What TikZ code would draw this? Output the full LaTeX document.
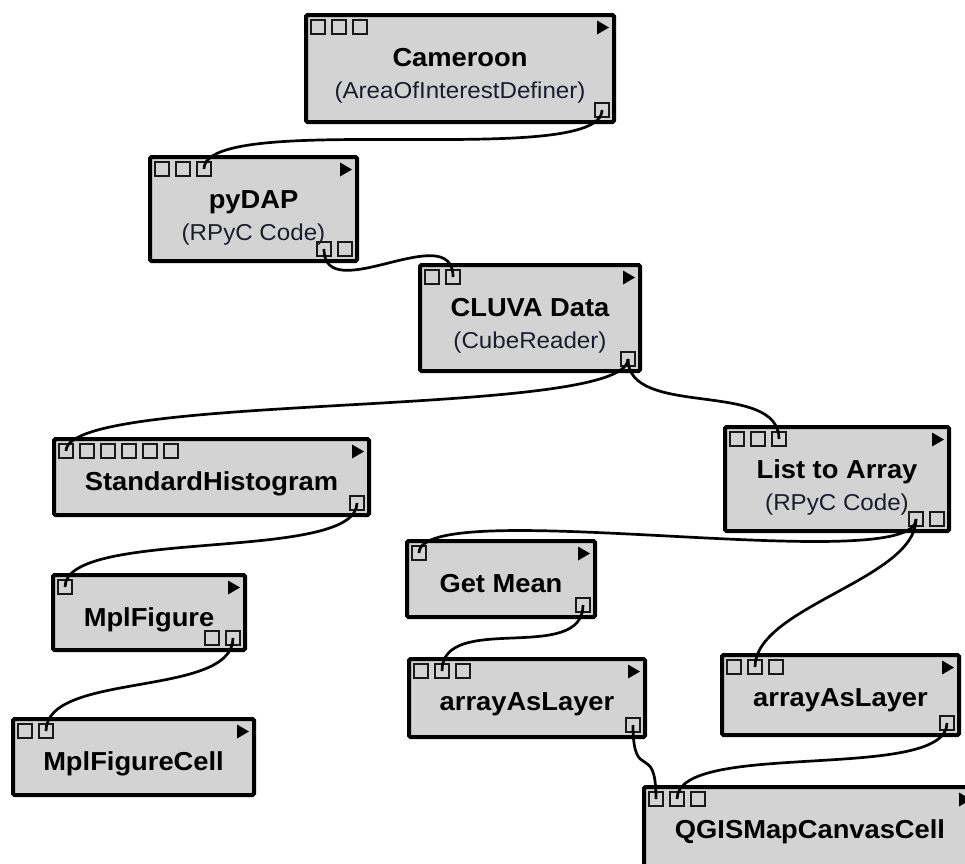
\documentclass[tikz,border=0pt]{standalone}
\usepackage{fontspec}
\setmainfont{Liberation Sans}[FakeStretch=1.05]
\usetikzlibrary{fit}

\definecolor{modfill}{RGB}{211,211,211}
\definecolor{subtext}{RGB}{28,28,48}

\tikzset{
  modbox/.style={draw=black, line width=4pt, fill=modfill, inner sep=0pt, outer sep=0pt, rounded corners=1.5pt},
  port/.style={draw=black!90, line width=1.2pt, minimum size=14pt, inner sep=0pt, outer sep=0pt, anchor=north west},
  wire/.style={draw=black, line width=2.7pt},
  modname/.style={font=\fontsize{26}{30}\selectfont\bfseries, anchor=base, inner sep=0pt, text=black},
  modsub/.style={font=\fontsize{23}{27}\selectfont, anchor=base, inner sep=0pt, text=subtext},
}

% module: name, left, top, right, bottom, inputs, outputs
\newcommand\vtmod[7]{%
  \node[modbox, fit={({#2+2},{#3+2}) ({#4-2},{#5-2})}] (#1) {};
  \fill ({#4-7},{#3+14.5}) -- ({#4-19},{#3+7.5}) -- ({#4-19},{#3+21.5}) -- cycle;
  \foreach \i in {1,...,#6} \node[port] (#1-in\i) at ({#2+7+(\i-1)*21},{#3+7}) {};
  \ifnum#7>0
    \foreach \i in {1,...,#7} \node[port] (#1-out\i) at ({#4-7-14-(#7-\i)*21},{#5-7-14}) {};
  \fi
}

\begin{document}
\begin{tikzpicture}[x=1pt, y=-1pt]
  \useasboundingbox (0,0) rectangle (965,863);
  \clip (0,0) rectangle (965,863);

  % modules
  \vtmod{cam}{304}{13}{616}{124}{3}{1}
  \vtmod{pydap}{148}{155}{359}{263}{3}{2}
  \vtmod{cluva}{418}{263}{642}{373}{2}{1}
  \vtmod{hist}{52}{437}{371}{517}{6}{1}
  \vtmod{lta}{723}{425}{951}{533}{3}{2}
  \vtmod{mean}{405}{539}{597}{619}{1}{1}
  \vtmod{mplfig}{51}{573}{247}{652}{1}{2}
  \vtmod{mplcell}{11}{717}{256}{797}{2}{0}
  \vtmod{laya}{407}{657}{647}{739}{3}{1}
  \vtmod{layb}{720}{653}{961}{737}{3}{1}
  \vtmod{qgis}{642}{785}{978}{890}{3}{0}

  % labels
  \node[modname] (cam-title) at (460,66) {Cameroon};
  \node[modsub]  (cam-sub)   at (460,98) {(AreaOfInterestDefiner)};
  \node[modname] (pydap-title) at (253.5,208) {pyDAP};
  \node[modsub]  (pydap-sub)   at (253.5,240) {(RPyC Code)};
  \node[modname] (cluva-title) at (530,316) {CLUVA Data};
  \node[modsub]  (cluva-sub)   at (530,348) {(CubeReader)};
  \node[modname] (hist-title) at (211.5,490) {StandardHistogram};
  \node[modname] (lta-title) at (837,478) {List to Array};
  \node[modsub]  (lta-sub)   at (837,510) {(RPyC Code)};
  \node[modname] (mean-title) at (501,592) {Get Mean};
  \node[modname] (mplfig-title) at (149,626) {MplFigure};
  \node[modname] (mplcell-title) at (133.5,770) {MplFigureCell};
  \node[modname] (laya-title) at (527,710) {arrayAsLayer};
  \node[modname] (layb-title) at (840.5,706) {arrayAsLayer};
  \node[modname] (qgis-title) at (810,838) {QGISMapCanvasCell};

  % connections
  \draw[wire] (cam-out1.center) .. controls +(0,60) and +(0,-60) .. (pydap-in3.center);
  \draw[wire] (pydap-out1.center) .. controls +(0,60) and +(0,-60) .. (cluva-in2.center);
  \draw[wire] (cluva-out1.center) .. controls +(0,60) and +(0,-60) .. (hist-in1.center);
  \draw[wire] (cluva-out1.center) .. controls +(0,60) and +(0,-60) .. (lta-in3.center);
  \draw[wire] (hist-out1.center) .. controls +(0,60) and +(0,-60) .. (mplfig-in1.center);
  \draw[wire] (mplfig-out2.center) .. controls +(0,60) and +(0,-60) .. (mplcell-in2.center);
  \draw[wire] (lta-out1.center) .. controls +(0,60) and +(0,-60) .. (mean-in1.center);
  \draw[wire] (lta-out1.center) .. controls +(0,60) and +(0,-60) .. (layb-in2.center);
  \draw[wire] (mean-out1.center) .. controls +(0,60) and +(0,-60) .. (laya-in2.center);
  \draw[wire] (laya-out1.center) .. controls +(0,60) and +(0,-60) .. (qgis-in1.center);
  \draw[wire] (layb-out1.center) .. controls +(0,60) and +(0,-60) .. (qgis-in2.center);
\end{tikzpicture}
\end{document}
